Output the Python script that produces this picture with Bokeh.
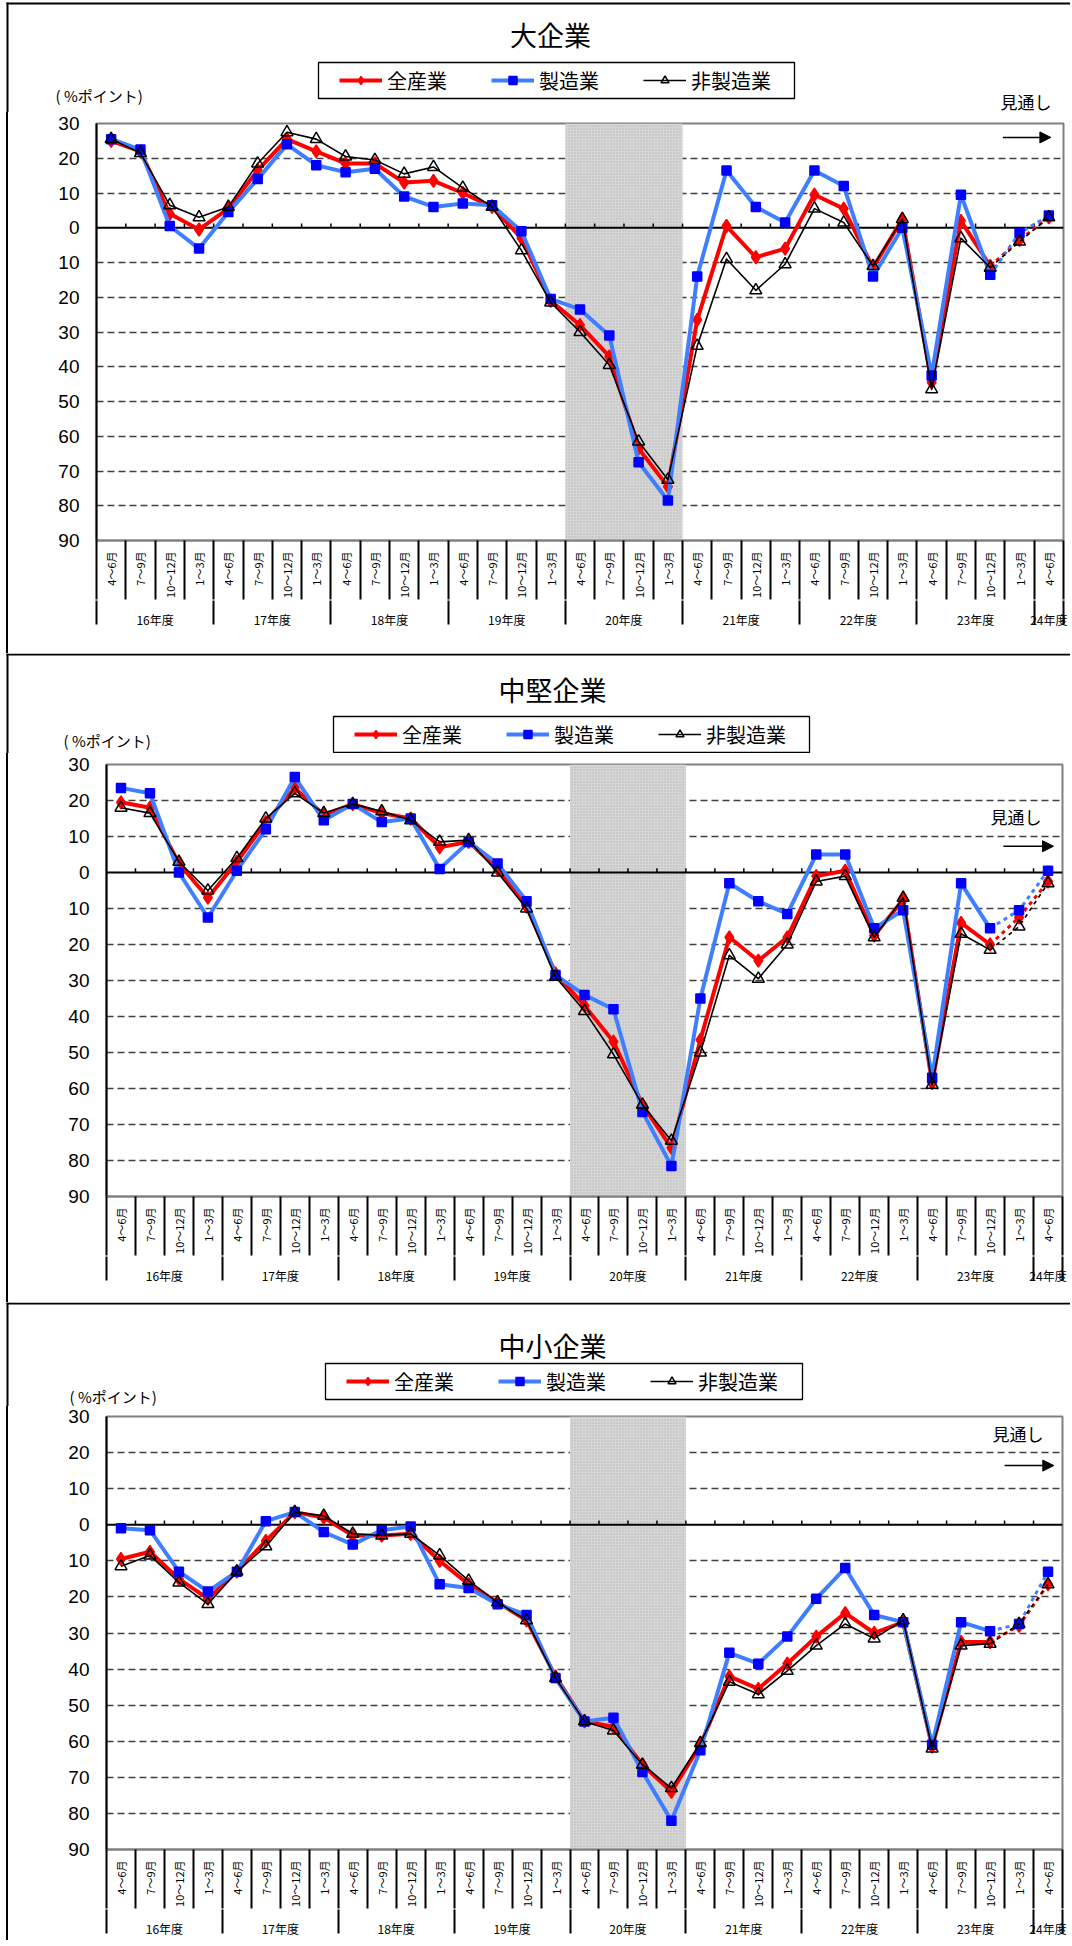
import math
import numpy as np
from bokeh.plotting import figure
from bokeh.models import (Range1d, FixedTicker, LinearAxis, Label, Legend, LegendItem,
                          Arrow, NormalHead, BoxAnnotation)
from bokeh.layouts import column
from bokeh.embed import file_html
from bokeh.resources import INLINE

# ---------------- data ----------------
years = ["16年度", "17年度", "18年度", "19年度", "20年度", "21年度", "22年度", "23年度", "24年度"]
quarters = ["4～6月", "7～9月", "10～12月", "1～3月"]
quarters_per_year = [4, 4, 4, 4, 4, 4, 4, 4, 1]
shade_year = "20年度"
n_actual = 31          # first 31 points are results, the rest is the outlook (見通し)
y_ticks = [30, 20, 10, 0, -10, -20, -30, -40, -50, -60, -70, -80, -90]
series_names = ["全産業", "製造業", "非製造業"]
unit_text = "( %ポイント)"
outlook_text = "見通し"

titles = ["大企業", "中堅企業", "中小企業"]

large_all = [25, 22, 4, -0.5, 5.5, 16.5, 25.5, 22, 18.5, 18.5, 13, 13.5, 10, 6, -3, -21, -28, -37,
             -63.5, -74.5, -26.5, 0.5, -8.5, -6, 9.5, 5.5, -11.5, 2.5, -44.5, 2, -11, -3.5, 3]
large_mfg = [25.5, 22.5, 0.5, -6, 4.5, 14, 24, 18, 16, 17, 9, 6, 7, 6.5, -1, -20.5, -23.5, -31,
             -67.5, -78.5, -14, 16.5, 6, 1.5, 16.5, 12, -14, 0, -42.5, 9.5, -13.5, -1.5, 3.5]
large_non = [25.5, 21.5, 6.5, 3, 6, 18.5, 27.5, 25.5, 20.5, 19.5, 15.5, 17.5, 11.5, 6, -6.5, -21.5, -30, -39.5,
             -61.5, -72.5, -34, -9, -18, -10.5, 5.5, 1.5, -11, 2.5, -46.5, -3, -11.5, -4, 3]

mid_all = [19.5, 18, 2.5, -7, 3, 14, 23.5, 16, 19, 16.5, 15, 7, 8.5, 1, -9.5, -28, -37, -47,
           -64.5, -76.5, -46.5, -18, -24.5, -18, -1, 0.5, -17.5, -7.5, -58.5, -14, -20, -12.5, -2.5]
mid_mfg = [23.5, 22, 0, -12.5, 0.5, 12, 26.5, 14.5, 19, 14, 15, 1, 8.5, 2.5, -8, -28.5, -34, -38,
           -66.5, -81.5, -35, -3, -8, -11.5, 5, 5, -15.5, -10.5, -57, -3, -15.5, -10.5, 0.5]
mid_non = [18, 16.5, 3, -5, 4, 15, 22, 16.5, 19, 17, 14.5, 8.5, 9, 0, -10, -29, -38.5, -50.5,
           -64.5, -74.5, -50, -23, -29.5, -20, -2.5, -1, -18, -7, -59, -17, -21.5, -15, -3]

small_all = [-9.5, -7.5, -15, -20.5, -13, -4.5, 3.5, 2, -3, -3, -2.5, -10, -16.5, -21.5, -26.5, -42, -54.5, -56,
             -66.5, -74, -61, -42, -45.5, -38.5, -31, -24.5, -30, -27, -61.5, -32.5, -32.5, -28, -16.5]
small_mfg = [-1, -1.5, -13, -18.5, -13, 1, 3.5, -2, -5.5, -1.5, -0.5, -16.5, -17.5, -22, -25, -42.5, -54.5, -53.5,
             -68.5, -82, -62.5, -35.5, -38.5, -31, -20.5, -12, -25, -27, -61, -27, -29.5, -27.5, -13]
small_non = [-11.5, -8.5, -16, -22, -13, -6, 3.5, 2.5, -2.5, -3, -2.5, -8.5, -15.5, -21.5, -26.5, -42.5, -54.5, -57,
             -66.5, -73, -60.5, -43.5, -47, -40.5, -33.5, -27.5, -31.5, -26.5, -62, -33.5, -33, -27.5, -16.5]

# ---------------- derived category structure ----------------
cat_quarters = []
year_bounds = [0]
year_centers = []
for y, nq in zip(years, quarters_per_year):
    start = year_bounds[-1]
    cat_quarters += quarters[:nq]
    year_centers.append(start + nq / 2)
    year_bounds.append(start + nq)
N = len(cat_quarters)
xs = [i + 0.5 for i in range(N)]
q_bounds = list(range(N + 1))
sh_i = years.index(shade_year)
YMIN, YMAX = min(y_ticks), max(y_ticks)

JP = "Noto Sans CJK JP"
NUM = "Liberation Sans"
W = 1070
EDGE = (6, 8)   # left panel border, pixels

styles = [
    ("#ff0000", 4, "diamond", 13, "#ff0000", "#ff0000", 3),
    ("#3f7fff", 4, "square", 9, "#0000ff", "#0000ff", 3),
    ("black", 1.6, "triangle", 12, None, "black", 1.6),
]

# ---------------- layout (pixels, figure-local) ----------------
layouts = [
    dict(HH=112, H=541, L=96, R=7, T=11, B=113, top_line=(2, 4),
         title_xy=(550, 34), unit_xy=(55, 95), box=(318, 794, 62, 98), legend_xy=(339, 17.5),
         outlook_hdr=(1000, 100.5), outlook_main=None, arrow=(30.93, 32.57, 26.0)),
    dict(HH=100, H=549, L=106, R=8, T=11, B=106, top_line=(0, 2),
         title_xy=(552, 36), unit_xy=(63, 87), box=(333, 809, 63, 99), legend_xy=(354, 4.5),
         outlook_hdr=None, outlook_main=(990, 63), arrow=(30.96, 32.69, 7.3)),
    dict(HH=104, H=534, L=106, R=8, T=10, B=91, top_line=(0, 2),
         title_xy=(552, 42.5), unit_xy=(69, 93.5), box=(325, 802, 61, 97), legend_xy=(346, 10.5),
         outlook_hdr=None, outlook_main=(992, 26.7), arrow=(31.0, 32.7, 16.4)),
]
panel_data = [(large_all, large_mfg, large_non), (mid_all, mid_mfg, mid_non), (small_all, small_mfg, small_non)]


def no_align(fig):
    if "frame_align" in fig.properties():
        fig.frame_align = False


def make_header(title, lay):
    HH = lay["HH"]
    h = figure(width=W, height=HH, x_range=Range1d(0, W), y_range=Range1d(HH, 0),
               output_backend="svg", toolbar_location=None, title=None,
               min_border_left=0, min_border_right=0, min_border_top=0, min_border_bottom=0,
               x_axis_location=None, y_axis_location=None)
    no_align(h)
    h.xgrid.visible = False
    h.ygrid.visible = False
    h.outline_line_color = None
    h.background_fill_color = "white"
    h.border_fill_color = "white"

    # panel frame lines (left edge and top edge)
    h.add_layout(BoxAnnotation(left=EDGE[0], right=EDGE[1], top=lay["top_line"][0], bottom=HH,
                               fill_color="black", fill_alpha=1, line_color=None, level="underlay"))
    h.add_layout(BoxAnnotation(left=EDGE[0], right=W, top=lay["top_line"][0], bottom=lay["top_line"][1],
                               fill_color="black", fill_alpha=1, line_color=None, level="underlay"))

    items = []
    nan = np.array([np.nan, np.nan])
    for name, (lc, lw, mk, ms, mf, ml, dlw) in zip(series_names, styles):
        rl = h.line(x=nan, y=nan, line_color=lc, line_width=lw)
        rs = h.scatter(x=nan, y=nan, marker=mk, fill_color=mf, line_color=ml, line_width=1.5)
        items.append(LegendItem(label=name, renderers=[rl, rs]))
    leg = Legend(items=items, orientation="horizontal", location=lay["legend_xy"],
                 glyph_width=43, glyph_height=20, label_standoff=5, spacing=44, padding=0, margin=0,
                 border_line_color=None, background_fill_alpha=0,
                 label_text_font=JP, label_text_font_size="20px", label_text_color="black")
    h.add_layout(leg)
    l, r, t, b = lay["box"]
    h.add_layout(BoxAnnotation(left=l, right=r, top=t, bottom=b, fill_color=None,
                               line_color="black", line_alpha=1, line_width=1.3, level="underlay"))

    h.add_layout(Label(x=lay["title_xy"][0], y=lay["title_xy"][1], text=title,
                       text_align="center", text_baseline="middle",
                       text_font=JP, text_font_size="27px", text_color="black"))
    h.add_layout(Label(x=lay["unit_xy"][0], y=lay["unit_xy"][1], text=unit_text,
                       text_align="left", text_baseline="middle",
                       text_font=JP, text_font_size="15px", text_color="black"))
    if lay["outlook_hdr"]:
        h.add_layout(Label(x=lay["outlook_hdr"][0], y=lay["outlook_hdr"][1], text=outlook_text,
                           text_align="left", text_baseline="middle",
                           text_font=JP, text_font_size="17px", text_color="black"))
    return h


def make_panel(vals, lay):
    edge_css = ("linear-gradient(to right, #fff 0px, #fff %dpx, #000 %dpx, #000 %dpx, #fff %dpx, #fff 100%%)"
                % (EDGE[0], EDGE[0], EDGE[1], EDGE[1]))
    p = figure(width=W, height=lay["H"], x_range=Range1d(0, N), y_range=Range1d(YMIN, YMAX),
               output_backend="svg", toolbar_location=None, title=None,
               min_border_left=lay["L"], min_border_right=lay["R"],
               min_border_top=lay["T"], min_border_bottom=lay["B"],
               x_axis_location=None, y_axis_location="left",
               styles={"background": edge_css})
    no_align(p)
    p.background_fill_color = "white"
    p.border_fill_color = None
    p.outline_line_color = "#808080"
    p.outline_line_width = 2

    yax = p.yaxis[0]
    yax.ticker = FixedTicker(ticks=y_ticks)
    yax.major_label_overrides = {t: str(abs(t)) for t in y_ticks}
    yax.major_tick_out = 0
    yax.major_tick_in = 0
    yax.minor_tick_line_color = None
    yax.axis_line_color = "black"
    yax.axis_line_width = 2
    yax.major_label_standoff = 17
    yax.major_label_text_font = NUM
    yax.major_label_text_font_size = "19px"
    yax.major_label_text_color = "black"

    p.xgrid.visible = False
    p.ygrid[0].ticker = FixedTicker(ticks=[t for t in y_ticks if t not in (0, YMIN, YMAX)])
    p.ygrid[0].grid_line_color = "#404040"
    p.ygrid[0].grid_line_dash = "7 4"
    p.ygrid[0].grid_line_width = 1.3

    qax = LinearAxis(ticker=FixedTicker(ticks=xs, minor_ticks=q_bounds),
                     major_label_overrides={x: q for x, q in zip(xs, cat_quarters)})
    qax.major_tick_out = 0
    qax.major_tick_in = 0
    qax.major_tick_line_color = None
    qax.minor_tick_out = 59
    qax.minor_tick_in = 0
    qax.minor_tick_line_color = "black"
    qax.minor_tick_line_width = 2
    qax.axis_line_color = "#808080"
    qax.axis_line_width = 2
    qax.major_label_orientation = math.pi / 2
    qax.major_label_standoff = -48
    qax.major_label_text_font = JP
    qax.major_label_text_font_size = "11px"
    qax.major_label_text_color = "black"
    p.add_layout(qax, "below")

    yrax = LinearAxis(ticker=FixedTicker(ticks=year_centers, minor_ticks=year_bounds),
                      major_label_overrides={c: y for c, y in zip(year_centers, years)})
    yrax.major_tick_out = 0
    yrax.major_tick_in = 0
    yrax.major_tick_line_color = None
    yrax.minor_tick_out = 24
    yrax.minor_tick_in = 0
    yrax.minor_tick_line_color = "black"
    yrax.minor_tick_line_width = 2
    yrax.axis_line_color = None
    yrax.major_label_standoff = -14
    yrax.major_label_text_font = JP
    yrax.major_label_text_font_size = "12px"
    yrax.major_label_text_color = "black"
    p.add_layout(yrax, "below")

    s0 = year_bounds[sh_i]
    s1 = year_bounds[sh_i + 1]
    p.quad(left=[s0], right=[s1], bottom=[YMIN], top=[YMAX], fill_color="#d6d6d6",
           hatch_pattern="dot", hatch_color="#b5b5b5", hatch_scale=3, line_color=None)

    p.segment(x0=[0], x1=[N], y0=[0], y1=[0], line_color="black", line_width=2)
    inner = q_bounds[1:-1]
    p.segment(x0=inner, x1=inner, y0=[0] * len(inner), y1=[1.2] * len(inner),
              line_color="black", line_width=1.5)

    for v, (lc, lw, mk, ms, mf, ml, dlw) in zip(vals, styles):
        p.line(xs[:n_actual], v[:n_actual], line_color=lc, line_width=lw, line_join="round")
        p.line(xs[n_actual - 1:], v[n_actual - 1:], line_color=lc, line_width=dlw, line_dash="4 4")
        p.scatter(xs, v, marker=mk, size=ms, fill_color=mf, line_color=ml, line_width=1.5)

    if lay["outlook_main"]:
        p.add_layout(Label(x=lay["outlook_main"][0], y=lay["outlook_main"][1], x_units="canvas", y_units="canvas",
                           text=outlook_text, text_align="left", text_baseline="middle",
                           text_font=JP, text_font_size="17px", text_color="black"))
    ax0, ax1, ay = lay["arrow"]
    p.add_layout(Arrow(end=NormalHead(size=11, fill_color="black", line_color="black"),
                       x_start=ax0, y_start=ay, x_end=ax1, y_end=ay,
                       line_color="black", line_width=1.5))
    return p


children = []
for t, d, l in zip(titles, panel_data, layouts):
    children.append(make_header(t, l))
    children.append(make_panel(d, l))

page = column(*children, spacing=0)
open("out.html", "w").write(file_html(page, INLINE))
